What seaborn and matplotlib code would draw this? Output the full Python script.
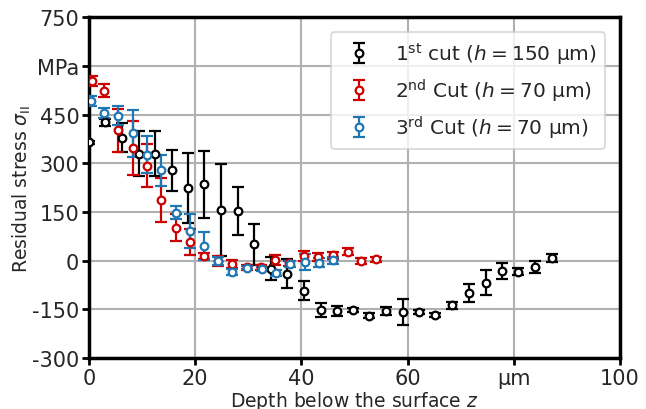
import matplotlib
matplotlib.use("Agg")
import matplotlib.pyplot as plt
import seaborn as sns

# depth (um), residual stress (MPa), error (MPa)
depth_cut1 = [0, 3.1, 6.3, 9.4, 12.5, 15.6, 18.7, 21.7, 24.9, 28.0, 31.1, 34.2, 37.3, 40.4,
              43.6, 46.7, 49.8, 52.8, 56.0, 59.1, 62.2, 65.2, 68.4, 71.5, 74.7, 77.8, 80.7, 83.9, 87.1]
stress_cut1 = [365, 427, 379, 330, 330, 279, 224, 235, 155, 153, 51, -25, -40, -92,
               -153, -155, -152, -170, -155, -157, -158, -167, -138, -99, -68, -32, -34, -20, 9]
err_cut1 = [5, 11, 45, 70, 70, 63, 108, 104, 142, 74, 63, 35, 44, 29,
            21, 15, 5, 8, 12, 40, 6, 6, 10, 28, 38, 25, 10, 18, 12]

depth_cut2 = [0.5, 2.85, 5.4, 8.2, 10.9, 13.5, 16.4, 19.0, 21.6, 24.2, 27.0, 29.8, 32.4, 35.0,
              37.7, 40.4, 43.2, 45.9, 48.7, 51.3, 54.0]
stress_cut2 = [553, 524, 402, 348, 293, 188, 102, 58, 14, 0, -10, -20, -20, 2,
               -8, 14, 11, 16, 28, -1, 4]
err_cut2 = [15, 20, 66, 83, 67, 68, 42, 41, 10, 15, 12, 8, 8, 15,
            8, 15, 12, 12, 10, 8, 8]

depth_cut3 = [0.4, 2.85, 5.5, 8.2, 10.9, 13.6, 16.4, 19.0, 21.6, 24.3, 27.0, 29.8, 32.5, 35.2,
              37.9, 40.6, 43.4, 45.9]
stress_cut3 = [491, 454, 447, 392, 326, 278, 148, 91, 45, -1, -35, -22, -27, -38,
               -11, -4, -6, 1]
err_cut3 = [15, 15, 30, 72, 57, 47, 20, 53, 44, 12, 8, 5, 6, 8,
            10, 24, 15, 10]

labels = [r"1$^{\mathrm{st}}$ cut ($h = 150$ µm)",
          r"2$^{\mathrm{nd}}$ Cut ($h = 70$ µm)",
          r"3$^{\mathrm{rd}}$ Cut ($h = 70$ µm)"]
colors = ["black", "#cc0000", "#1f77b4"]

xticks = [0, 20, 40, 60, 80, 100]
xticklabels = ["0", "20", "40", "60", "µm", "100"]
yticks = [-300, -150, 0, 150, 300, 450, 600, 750]
yticklabels = ["-300", "-150", "0", "150", "300", "450", "MPa", "750"]

sns.set_theme(style="whitegrid")
plt.rcParams["font.family"] = ["DejaVu Sans"]
plt.rcParams["mathtext.fontset"] = "dejavusans"

fig = plt.figure(figsize=(6.46, 4.10), dpi=100)
ax = fig.add_axes([0.1378, 0.1244, 0.8220, 0.8310])

series = [(depth_cut1, stress_cut1, err_cut1),
          (depth_cut2, stress_cut2, err_cut2),
          (depth_cut3, stress_cut3, err_cut3)]
for (x, y, e), lab, c in zip(series, labels, colors):
    ax.errorbar(x, y, yerr=e, fmt="o", color=c, mfc="white", mec=c, mew=1.6,
                ms=5.5, elinewidth=1.6, capsize=4, capthick=1.6, label=lab, zorder=3)

ax.set_xlim(0, 100)
ax.set_ylim(-300, 750)
ax.set_xticks(xticks)
ax.set_xticklabels(xticklabels)
ax.set_yticks(yticks)
ax.set_yticklabels(yticklabels)
ax.grid(True, color="#b0b0b0", linewidth=1.5)
ax.set_axisbelow(True)
ax.tick_params(axis="both", which="major", direction="out", length=5, width=2,
               color="black", labelsize=15, pad=2, left=True, bottom=True)
for sp in ax.spines.values():
    sp.set_color("black")
    sp.set_linewidth(2.5)
ax.set_facecolor("white")

ax.set_xlabel(r"Depth below the surface $z$", fontsize=13.5, labelpad=1)
ax.set_ylabel(r"Residual stress $\sigma_{\mathrm{II}}$", fontsize=13.5)
ax.yaxis.set_label_coords(-0.105, 0.5)

leg = ax.legend(loc="upper right", frameon=True, framealpha=0.8, borderaxespad=0.75,
                edgecolor="#cccccc", prop={"family": "DejaVu Sans", "size": 14.5})
leg.get_frame().set_linewidth(1.2)

fig.savefig("out.png", dpi=100)
